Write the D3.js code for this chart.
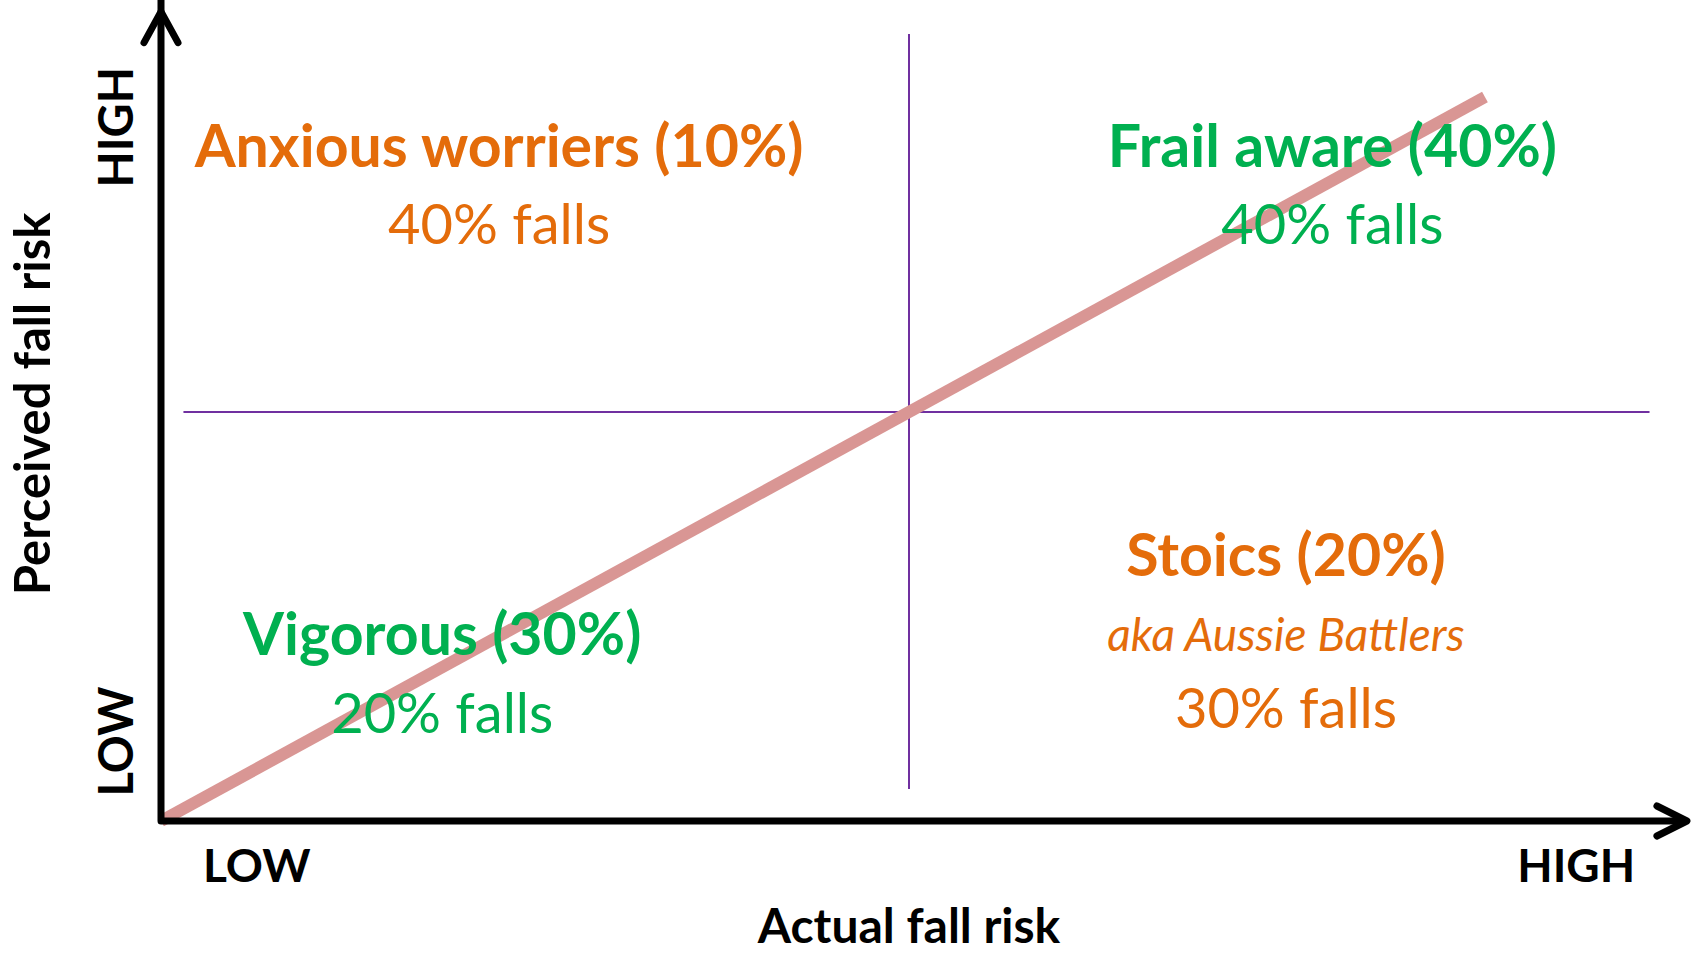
<!DOCTYPE html>
<html>
<head>
<meta charset="utf-8">
<script src="https://cdn.jsdelivr.net/npm/d3@7"></script>
<style>
  body { margin: 0; background: #fff; }
  #chart { width: 1691px; height: 954px; }
  text { font-family: Lato, "Open Sans", sans-serif; }
</style>
</head>
<body>
<div id="chart"></div>
<script>

// quadrant groups (x = actual risk, y = perceived risk, 0-100)
const groups = ["Anxious worriers (10%)", "Frail aware (40%)", "Stoics (20%)", "Vigorous (30%)"];
const groupX = [22.6, 78.3, 75.2, 18.8];
const groupY = [80.0, 80.0, 30.0, 20.3];
const groupColor = ["#E46C0A", "#00B050", "#E46C0A", "#00B050"];
const fallText = ["40% falls", "40% falls", "30% falls", "20% falls"];
const fallY = [70.5, 70.5, 11.4, 10.8];
const nickname = ["", "", "aka Aussie Battlers", ""];
const nicknameY = [0, 0, 20.8, 0];

// diagonal: perceived == actual
const diagonal = [[0, 0], [88.5, 88.5]];
// quadrant dividers
const midpoint = 50;
const vDivider = [3.9, 96.2];
const hDivider = [1.5, 99.5];

// axis end labels
const xTickLabels = ["LOW", "HIGH"];
const xTickPos = [6.4, 94.6];
const yTickLabels = ["LOW", "HIGH"];
const yTickPos = [9.7, 84.8];
const axisEnd = 102;

const width = 1691;
const height = 954;

const svg = d3.select("#chart")
    .append("svg")
    .attr("width", width)
    .attr("height", height);

const xScale = d3.scaleLinear()
    .domain([0, 100])
    .range([161, 1657]);

const yScale = d3.scaleLinear()
    .domain([0, 100])
    .range([821, 3]);

const line = d3.line()
    .x(d => xScale(d[0]))
    .y(d => yScale(d[1]));

// dividers
svg.append("path")
    .attr("d", line([[midpoint, vDivider[0]], [midpoint, vDivider[1]]]))
    .attr("stroke", "#7030A0")
    .attr("stroke-width", 2)
    .attr("fill", "none");

svg.append("path")
    .attr("d", line([[hDivider[0], midpoint], [hDivider[1], midpoint]]))
    .attr("stroke", "#7030A0")
    .attr("stroke-width", 2)
    .attr("fill", "none");

// diagonal band
svg.append("path")
    .attr("d", line(diagonal))
    .attr("stroke", "#D99694")
    .attr("stroke-width", 12)
    .attr("fill", "none");

// axes with arrow heads
const axisStyle = g => g
    .attr("stroke", "#000")
    .attr("stroke-width", 7)
    .attr("stroke-linecap", "round")
    .attr("stroke-linejoin", "round")
    .attr("fill", "none");

svg.append("path")
    .attr("d", line([[0, axisEnd * 0.995], [0, 0], [axisEnd, 0]]))
    .call(axisStyle)
    .attr("stroke-linecap", "butt");

const xTip = [xScale(axisEnd), yScale(0)];
svg.append("path")
    .attr("d", `M${xTip[0] - 30},${xTip[1] - 15}L${xTip[0]},${xTip[1]}L${xTip[0] - 30},${xTip[1] + 15}`)
    .call(axisStyle);

const yTip = [xScale(0), yScale(axisEnd * 0.97) + 0];
svg.append("path")
    .attr("d", `M${yTip[0] - 17},${yTip[1] + 31}L${yTip[0]},${yTip[1]}L${yTip[0] + 17},${yTip[1] + 31}`)
    .call(axisStyle);

// quadrant labels
svg.selectAll(".group")
    .data(groups)
    .enter()
    .append("text")
        .attr("class", "group")
        .attr("x", (d, i) => xScale(groupX[i]))
        .attr("y", (d, i) => yScale(groupY[i]))
        .attr("text-anchor", "middle")
        .attr("font-weight", "bold")
        .attr("font-size", 59)
        .attr("fill", (d, i) => groupColor[i])
        .text(d => d);

svg.selectAll(".falls")
    .data(fallText)
    .enter()
    .append("text")
        .attr("class", "falls")
        .attr("x", (d, i) => xScale(groupX[i]))
        .attr("y", (d, i) => yScale(fallY[i]))
        .attr("text-anchor", "middle")
        .attr("font-size", 56)
        .attr("fill", (d, i) => groupColor[i])
        .text(d => d);

svg.selectAll(".nick")
    .data(nickname.filter(d => d !== ""))
    .enter()
    .append("text")
        .attr("class", "nick")
        .attr("x", d => xScale(groupX[nickname.indexOf(d)]))
        .attr("y", d => yScale(nicknameY[nickname.indexOf(d)]))
        .attr("text-anchor", "middle")
        .attr("font-style", "italic")
        .attr("font-size", 46)
        .attr("fill", d => groupColor[nickname.indexOf(d)])
        .text(d => d);

// axis end labels
svg.selectAll(".xtick")
    .data(xTickLabels)
    .enter()
    .append("text")
        .attr("class", "xtick")
        .attr("x", (d, i) => xScale(xTickPos[i]))
        .attr("y", yScale(0) + 61)
        .attr("text-anchor", "middle")
        .attr("font-weight", "bold")
        .attr("font-size", 46)
        .text(d => d);

svg.selectAll(".ytick")
    .data(yTickLabels)
    .enter()
    .append("text")
        .attr("class", "ytick")
        .attr("transform", (d, i) => `translate(${xScale(0) - 28},${yScale(yTickPos[i])}) rotate(-90)`)
        .attr("text-anchor", "middle")
        .attr("font-weight", "bold")
        .attr("font-size", 47)
        .text(d => d);

// axis titles
svg.append("text")
    .attr("x", xScale(midpoint))
    .attr("y", yScale(0) + 122)
    .attr("text-anchor", "middle")
    .attr("font-weight", "bold")
    .attr("font-size", 48)
    .text("Actual fall risk");

svg.append("text")
    .attr("transform", `translate(${xScale(0) - 111},${yScale(51)}) rotate(-90)`)
    .attr("text-anchor", "middle")
    .attr("font-weight", "bold")
    .attr("font-size", 49)
    .text("Perceived fall risk");

</script>
</body>
</html>
